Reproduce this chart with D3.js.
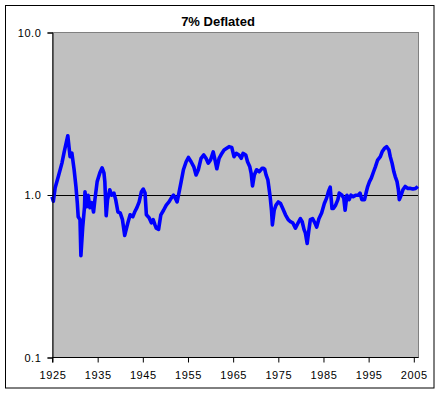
<!DOCTYPE html>
<html>
<head>
<meta charset="utf-8">
<script src="https://cdn.jsdelivr.net/npm/d3@7"></script>
<style>
  body { margin: 0; background: #fff; }
  svg { display: block; font-family: "Liberation Sans", Arial, sans-serif; }
</style>
</head>
<body>
<div id="chart"></div>
<script>
// waarden
const years = [
  1925.0, 1925.3, 1925.7, 1926.4, 1927.2, 1927.7, 1928.5, 1929.0, 1929.4, 1929.9,
  1930.3, 1930.6, 1930.8, 1931.2, 1931.4, 1931.8, 1932.2, 1932.3, 1932.7, 1933.0,
  1933.4, 1933.8, 1934.2, 1934.5, 1935.0, 1935.6, 1936.1, 1936.5, 1936.7, 1937.0,
  1937.3, 1937.8, 1938.2, 1938.7, 1939.1, 1939.6, 1940.1, 1940.6, 1941.1, 1941.8,
  1942.3, 1942.9, 1943.3, 1943.8, 1944.3, 1944.8, 1945.2, 1945.6, 1945.9, 1946.5,
  1947.0, 1947.4, 1947.8, 1948.1, 1948.6, 1949.1, 1949.7, 1950.3, 1950.9, 1951.4,
  1951.9, 1952.3, 1952.7, 1953.1, 1953.6, 1954.1, 1954.7, 1955.2, 1955.8, 1956.4,
  1956.9, 1957.4, 1958.0, 1958.6, 1959.1, 1959.6, 1960.1, 1960.7, 1961.1, 1961.5,
  1962.0, 1962.6, 1963.1, 1963.6, 1964.2, 1964.8, 1965.3, 1965.8, 1966.4, 1966.9,
  1967.3, 1967.9, 1968.3, 1968.8, 1969.1, 1969.4, 1969.8, 1970.3, 1970.9, 1971.5,
  1971.8, 1972.1, 1972.4, 1972.8, 1973.0, 1973.3, 1973.6, 1973.8, 1974.2, 1974.6,
  1975.1, 1975.6, 1976.1, 1976.7, 1977.3, 1977.8, 1978.3, 1978.9, 1979.5, 1980.0,
  1980.4, 1980.8, 1981.1, 1981.5, 1981.9, 1982.2, 1982.7, 1983.2, 1983.6, 1984.1,
  1984.7, 1985.3, 1985.8, 1986.2, 1986.6, 1987.0, 1987.3, 1987.8, 1988.3, 1988.6,
  1989.2, 1989.6, 1989.9, 1990.3, 1990.8, 1991.2, 1991.7, 1992.3, 1992.8, 1993.2,
  1993.6, 1994.2, 1994.6, 1994.9, 1995.3, 1995.7, 1996.2, 1996.6, 1997.1, 1997.7,
  1998.1, 1998.6, 1999.1, 1999.6, 1999.9, 2000.3, 2000.7, 2001.0, 2001.4, 2001.7,
  2001.9, 2002.3, 2002.7, 2003.2, 2003.8, 2004.4, 2004.9, 2005.5, 2006.0
]
const values = [
  0.97, 0.91, 1.10, 1.29, 1.56, 1.83, 2.30, 1.71, 1.80, 1.42,
  1.12, 0.89, 0.73, 0.70, 0.42, 0.63, 0.84, 1.04, 0.84, 0.99,
  0.83, 0.89, 0.78, 0.93, 1.20, 1.36, 1.46, 1.36, 1.20, 0.74,
  0.93, 1.07, 0.99, 1.02, 0.93, 0.78, 0.77, 0.70, 0.56, 0.67,
  0.75, 0.73, 0.78, 0.83, 0.90, 1.04, 1.08, 1.02, 0.75, 0.72,
  0.67, 0.70, 0.65, 0.62, 0.61, 0.75, 0.80, 0.86, 0.90, 0.95,
  0.99, 0.95, 0.90, 1.02, 1.20, 1.42, 1.59, 1.69, 1.59, 1.48,
  1.32, 1.42, 1.67, 1.75, 1.67, 1.56, 1.63, 1.83, 1.63, 1.44,
  1.67, 1.79, 1.88, 1.92, 1.97, 1.95, 1.71, 1.79, 1.75, 1.67,
  1.79, 1.75, 1.59, 1.48, 1.35, 1.13, 1.32, 1.42, 1.38, 1.45,
  1.45, 1.43, 1.32, 1.23, 1.12, 0.97, 0.80, 0.65, 0.80, 0.86,
  0.90, 0.88, 0.82, 0.75, 0.70, 0.68, 0.67, 0.62, 0.67, 0.71,
  0.68, 0.61, 0.58, 0.50, 0.61, 0.70, 0.71, 0.67, 0.63, 0.71,
  0.77, 0.88, 0.95, 1.04, 1.11, 0.82, 0.82, 0.86, 0.93, 1.02,
  0.99, 0.95, 0.80, 0.99, 0.93, 0.99, 0.97, 0.99, 0.99, 1.02,
  0.93, 0.93, 1.04, 1.12, 1.20, 1.26, 1.38, 1.48, 1.63, 1.71,
  1.83, 1.92, 1.97, 1.88, 1.71, 1.56, 1.38, 1.29, 1.20, 1.07,
  0.93, 0.99, 1.07, 1.12, 1.09, 1.09, 1.08, 1.09, 1.12
]
const xTicks = [1925, 1935, 1945, 1955, 1965, 1975, 1985, 1995, 2005]
const yTicks = [0.1, 1, 10]

const data = years.map((d, i) => ({ year: d, value: values[i] }))

const width = 440
const height = 393
const plot = { left: 52, top: 32, right: 418, bottom: 357 }

const svg = d3.select('#chart').append('svg')
    .attr('width', width).attr('height', height)

//rand om het hele diagram
svg.append('rect')
    .attr('x', 5.5).attr('y', 5.5)
    .attr('width', 428.5).attr('height', 382.5)
    .attr('fill', '#fff').attr('stroke', '#000')

//schalen
const xScale = d3.scaleLinear()
    .domain([1925, 2006.04])
    .range([plot.left, plot.right])
const yScale = d3.scaleLog()
    .domain([0.1, 10])
    .range([plot.bottom, plot.top])

//grijs plotvlak
svg.append('rect')
    .attr('x', plot.left + 0.5).attr('y', plot.top + 0.5)
    .attr('width', plot.right - plot.left).attr('height', plot.bottom - plot.top)
    .attr('fill', '#c0c0c0').attr('stroke', '#808080')

//lijn op 1.0
svg.append('line')
    .attr('x1', plot.left).attr('x2', plot.right)
    .attr('y1', Math.round(yScale(1)) + 0.5).attr('y2', Math.round(yScale(1)) + 0.5)
    .attr('stroke', '#000')

//de data lijn
const line = d3.line()
    .x(d => xScale(d.year))
    .y(d => yScale(d.value))
svg.append('path')
    .datum(data)
    .attr('d', line)
    .attr('fill', 'none')
    .attr('stroke', '#0000ff')
    .attr('stroke-width', 3.6)
    .attr('stroke-linejoin', 'round')

//assen
const yAxis = svg.append('g')
    .attr('transform', `translate(${plot.left + 0.5}, 0.5)`)
    .call(d3.axisLeft(yScale).tickValues(yTicks).tickFormat(d3.format('.1f')).tickSize(5).tickPadding(6))
const xAxis = svg.append('g')
    .attr('transform', `translate(0.5, ${plot.bottom + 0.5})`)
    .call(d3.axisBottom(xScale).tickValues(xTicks).tickFormat(d => d).tickSize(5).tickPadding(9))

svg.selectAll('.domain').attr('stroke', '#000')
svg.selectAll('.tick line').attr('stroke', '#000')
svg.selectAll('.tick text')
    .attr('fill', '#000')
    .style('font-size', '11px')
    .style('font-family', '"Liberation Sans", Arial, sans-serif')
    .style('letter-spacing', '0.6px')
xAxis.select('.domain').attr('d', `M${plot.left},5V0H${plot.right}`)

//titel
svg.append('text')
    .attr('x', 218).attr('y', 26)
    .attr('text-anchor', 'middle')
    .style('font-size', '13px')
    .style('font-weight', 'bold')
    .text('7% Deflated')
</script>
</body>
</html>
